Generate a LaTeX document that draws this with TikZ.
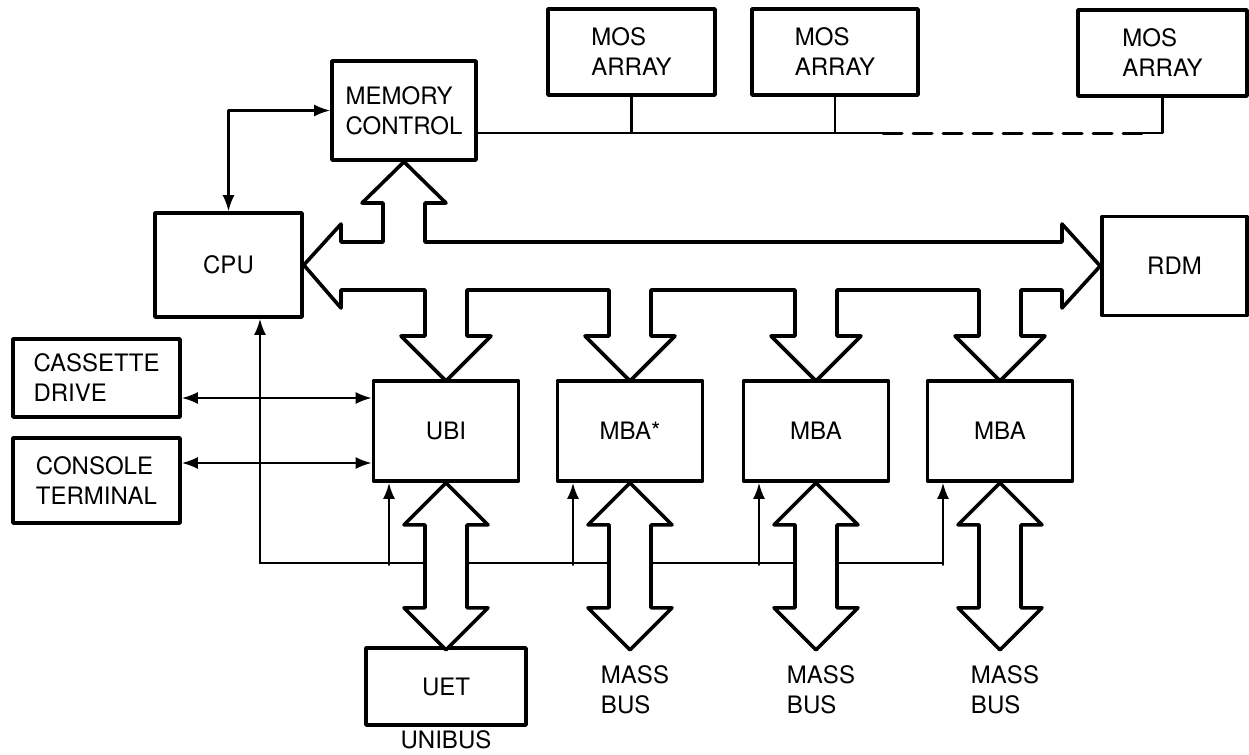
\documentclass[tikz,border=0pt]{standalone}
\usepackage{fontspec}
\setmainfont{TeX Gyre Heros}
\usetikzlibrary{arrows.meta}
\tikzset{>={Latex[length=8pt,width=6pt]}}

\begin{document}
\begin{tikzpicture}[x=0.5pt, y=-0.5pt,
                    line cap=round, line join=round,
                    font=\fontsize{12}{15}\selectfont,
                    box/.style={draw, line width=1.8pt, align=left, inner sep=0pt},
                    link/.style={line width=1.1pt},
                    fatbus/.style={draw, line width=1.8pt, fill=white}]
  \useasboundingbox (0,0) rectangle (1249,755);

  % memory side
  \node[box, minimum width=72pt, minimum height=49.5pt] (mc) at (404,110.5) {MEMORY\\CONTROL};
  \node[box, minimum width=83.5pt, minimum height=43pt] (mos1) at (631.5,52) {MOS\\ARRAY};
  \node[box, minimum width=83pt, minimum height=43pt] (mos2) at (835,52) {MOS\\ARRAY};
  \node[box, minimum width=84.5pt, minimum height=43pt] (mos3) at (1162.5,53) {MOS\\ARRAY};

  % processor, adapters
  \node[box, minimum width=73.5pt, minimum height=52pt] (cpu) at (228.5,265) {CPU};
  \node[box, minimum width=72.5pt, minimum height=49.5pt] (rdm) at (1174.5,266) {RDM};
  \node[box, minimum width=83.5pt, minimum height=39pt] (cas) at (96.5,378) {CASSETTE\\DRIVE};
  \node[box, minimum width=83.5pt, minimum height=42.5pt] (con) at (96.5,480.5) {CONSOLE\\TERMINAL};
  \node[box, minimum width=72.5pt, minimum height=50pt] (ubi) at (446,431) {UBI};
  \node[box, minimum width=72.5pt, minimum height=50pt] (mbaa) at (630,431) {MBA*};
  \node[box, minimum width=72.5pt, minimum height=50pt] (mbab) at (816,431) {MBA};
  \node[box, minimum width=72.5pt, minimum height=50pt] (mbac) at (1000,431) {MBA};
  \node[box, minimum width=80pt, minimum height=38.5pt] (uet) at (446,686.5) {UET};

  \node (cmi) at (708,270) {CMI};
  \node (unibus) at (446,740) {UNIBUS};
  \foreach \c/\i in {630/1, 816/2, 1000/3}
    \node[align=left] (massbus\i) at (\c+5,690) {MASS\\BUS};

  \coordinate (mbus) at (0,133);
  \coordinate (ctl) at (260,563);
  \coordinate (casy) at (0,398);
  \coordinate (cony) at (0,463);

  % memory bus
  \draw[link] (mc.east |- mbus) -- (883,133);
  \draw[link, line width=1.5pt, dash pattern=on 9.5pt off 5.5pt] (883,133) -- (1143,133);
  \draw[link] (1143,133) -| (mos3.south);
  \draw[link] (mos1.south) -- (mos1.south |- mbus);
  \draw[link] (mos2.south) -- (mos2.south |- mbus);

  % thin connections
  \draw[link,<->] (cpu.north) |- (mc.west);
  \draw[link,<->] (cas.east |- casy) -- (ubi.west |- casy);
  \draw[link,<->] (con.east |- cony) -- (ubi.west |- cony);
  \draw[link,->] (ctl) -- (ctl |- cpu.south);
  \draw[link] (ctl) -- ([xshift=-28.5pt]mbac.south |- ctl);
  \foreach \n in {ubi,mbaa,mbab,mbac}
    \draw[link,<-] ([xshift=-28.5pt]\n.south) -- ++(0,82);

  % CMI
  \draw[fatbus] (cpu.east) -- (341,224) -- (341,242) -- (383,242) -- (383,203)
    -- (362,203) -- (mc.south) -- (446,203) -- (425,203) -- (425,242)
    -- (1062,242) -- (1062,224) -- (rdm.west) -- (1062,308) -- (1062,290)
    \foreach \c in {1000,816,630,446} {
      -- (\c+21,290) -- (\c+21,336) -- (\c+45,336) -- (\c,381)
      -- (\c-45,336) -- (\c-21,336) -- (\c-21,290) }
    -- (341,290) -- (341,308) -- cycle;

  % unibus / massbus
  \foreach \n in {ubi,mbaa,mbab,mbac}
    \draw[fatbus] (\n.south) -- ++(42,42) -- ++(-21,0) -- ++(0,83) -- ++(21,0)
      -- ++(-42,42) -- ++(-42,-42) -- ++(21,0) -- ++(0,-83) -- ++(-21,0) -- cycle;
\end{tikzpicture}
\end{document}
